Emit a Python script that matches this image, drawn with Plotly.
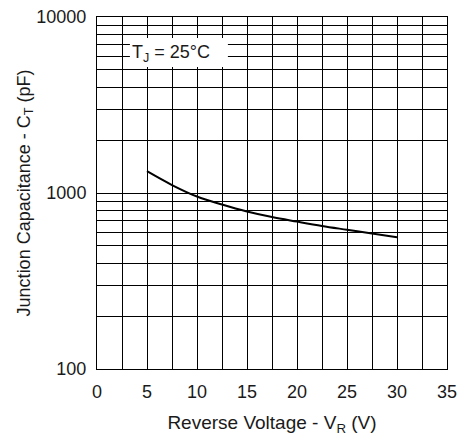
import plotly.graph_objects as go

# Data
vr = [5, 7.5, 10, 12.5, 15, 17.5, 20, 22.5, 25, 27.5, 30]
ct = [1330, 1110, 955, 860, 785, 730, 688, 650, 618, 588, 560]

x_tickvals = [0, 5, 10, 15, 20, 25, 30, 35]
x_ticktext = ["0", "5", "10", "15", "20", "25", "30", "35"]
y_tickvals = [100, 1000, 10000]
y_ticktext = ["100", "1000", "10000"]
y_minor = [200, 300, 400, 500, 600, 700, 800, 900,
           2000, 3000, 4000, 5000, 6000, 7000, 8000, 9000]

FONT = "Liberation Sans, Arial, sans-serif"
TXT = "#1a1a1a"

fig = go.Figure()
fig.add_trace(go.Scatter(x=vr, y=ct, mode="lines",
                         line=dict(color="black", width=2, shape="spline"),
                         showlegend=False, hoverinfo="skip"))

fig.update_layout(
    width=467, height=436,
    margin=dict(l=97, r=20, t=17, b=67, autoexpand=False),
    paper_bgcolor="white", plot_bgcolor="white",
    font=dict(family=FONT, color=TXT, size=18),
    xaxis=dict(range=[0, 35], tickvals=x_tickvals, ticktext=x_ticktext,
               showgrid=True, gridcolor="black", gridwidth=1,
               minor=dict(dtick=2.5, showgrid=True, gridcolor="black", gridwidth=1, ticks=""),
               showline=True, linecolor="black", linewidth=1, mirror=True,
               zeroline=False, ticks="outside", ticklen=6, tickcolor="rgba(0,0,0,0)",
               tickfont=dict(size=18), automargin=False,
               title=dict(text="Reverse Voltage - V<sub>R</sub> (V)", font=dict(size=19), standoff=15)),
    yaxis=dict(type="log", range=[2, 4], tickvals=y_tickvals, ticktext=y_ticktext,
               showgrid=True, gridcolor="black", gridwidth=1,
               minor=dict(tickvals=y_minor, showgrid=True, gridcolor="black", gridwidth=1, ticks=""),
               showline=True, linecolor="black", linewidth=1, mirror=True,
               zeroline=False, ticks="outside", ticklen=6, tickcolor="rgba(0,0,0,0)",
               tickfont=dict(size=18), automargin=False,
               title=dict(text="Junction Capacitance - C<sub>T</sub> (pF)", font=dict(size=18), standoff=1)),
)

# white label box behind the temperature note
fig.add_shape(type="rect", xref="paper", yref="paper",
              x0=0.094, x1=0.374, y0=0.858, y1=0.940,
              fillcolor="white", line=dict(width=0), layer="above")

fig.add_annotation(x=3.3, y=3.795, xref="x", yref="y",
                   text="T<sub>J</sub> = 25°C", showarrow=False,
                   xanchor="left", yanchor="middle",
                   font=dict(family=FONT, size=18, color=TXT))

fig.write_html("out.html", config={"displayModeBar": False},
               post_script="document.body.style.margin='0';document.body.style.padding='0';")
